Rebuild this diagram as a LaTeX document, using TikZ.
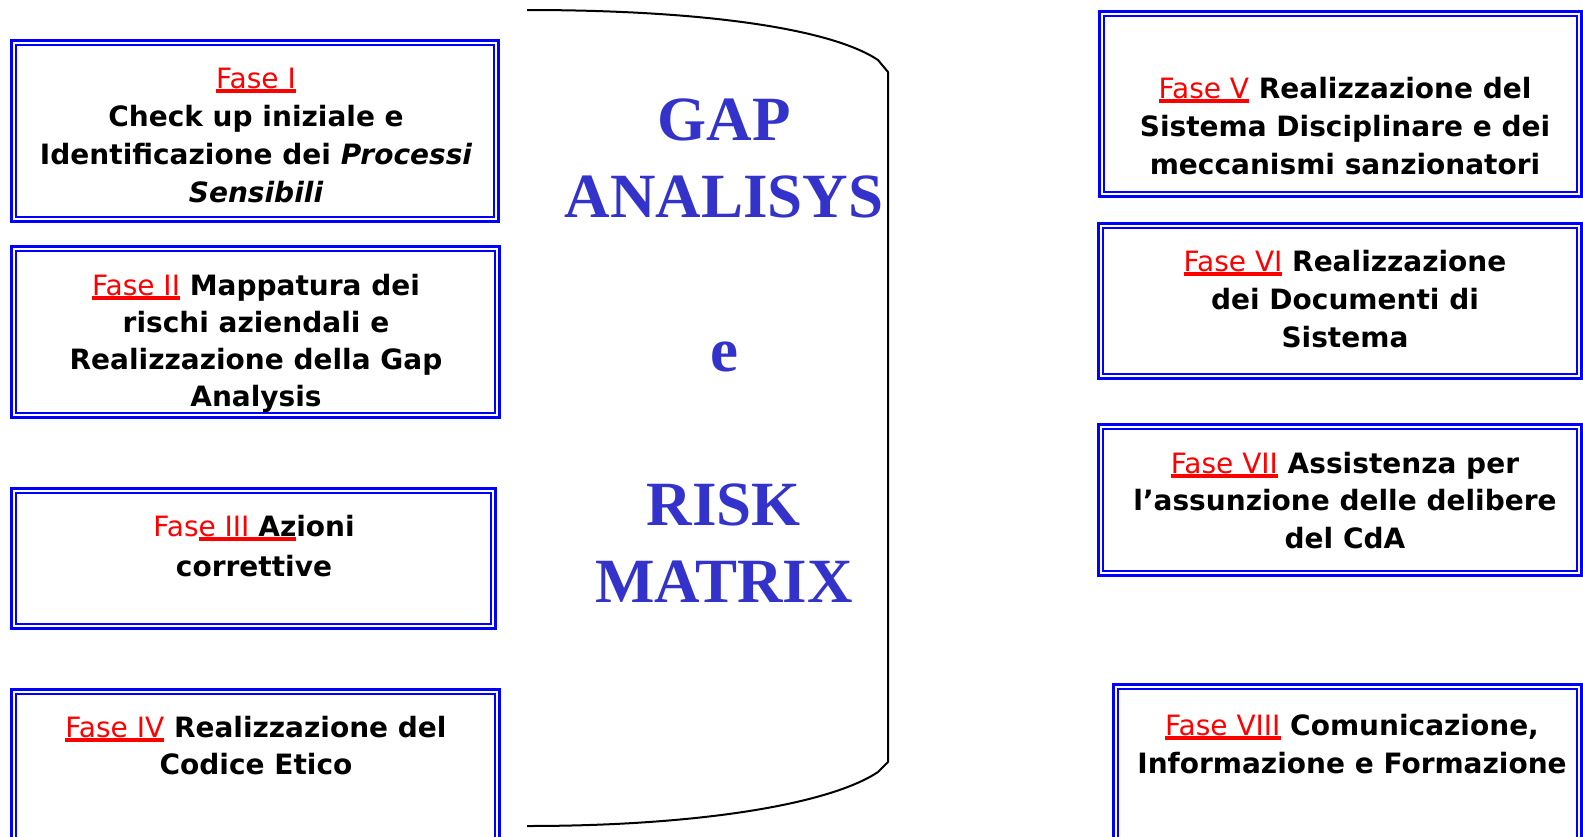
\documentclass[tikz,border=0pt]{standalone}
\usepackage{fontspec}
\newfontfamily\boxfont{DejaVu Sans}
\newfontfamily\titlefont{Liberation Serif}
\definecolor{titleblue}{RGB}{51,51,204}
\definecolor{boxblue}{RGB}{0,0,255}
\newcommand{\uln}[1]{\setbox0=\hbox{#1}\rlap{\rule[-4.8pt]{\wd0}{3.8pt}}\box0}
\newcommand{\fase}[1]{\textcolor{red}{\mdseries\uln{#1}}}
\tikzset{
  phasebox/.style={draw=boxblue, line width=3pt, inner sep=0pt, outer sep=0pt},
  innerline/.style={draw=boxblue, line width=1.5pt},
  phasetext/.style={font=\boxfont\bfseries\fontsize{28}{38}\selectfont, align=center, anchor=base, inner sep=0pt},
  titletext/.style={font=\titlefont\bfseries\fontsize{63}{77}\selectfont, text=titleblue, align=center, anchor=base, inner sep=0pt},
  cyl/.style={draw=black, line width=2pt, line join=round}
}
\newcommand{\dbl}[1]{\draw[innerline] ([xshift=4.5pt,yshift=-4.5pt]#1.north west) rectangle ([xshift=-4.5pt,yshift=4.5pt]#1.south east);}
\begin{document}
\begin{tikzpicture}[x=1pt,y=-1pt]
\useasboundingbox (0,0) rectangle (1583,836);
\clip (0,0) rectangle (1583,836);
% cylinder-like outline
\draw[cyl] (527,10) .. controls (700,10) and (830,28) .. (878,60) -- (888,72) -- (888,762) -- (878,772) .. controls (830,804) and (700,826) .. (527,826);
% (anchor=base of a multi-line node = baseline of its last line)
\node[titletext] (title) at (724,602) {GAP\\ANALISYS\\{}\\e\\{}\\RISK\\MATRIX};
% left boxes
\node[phasebox, minimum width=487pt, minimum height=181pt] (b1) at (255,131) {};
\dbl{b1}
\node[phasebox, minimum width=488pt, minimum height=171pt] (b2) at (255.5,332) {};
\dbl{b2}
\node[phasebox, minimum width=484pt, minimum height=140pt] (b3) at (253.5,558.5) {};
\dbl{b3}
\node[phasebox, minimum width=488pt, minimum height=161pt] (b4) at (255.5,770) {};
\dbl{b4}
% right boxes
\node[phasebox, minimum width=482pt, minimum height=185pt] (b5) at (1340.5,104) {};
\dbl{b5}
\node[phasebox, minimum width=483pt, minimum height=155pt] (b6) at (1340,301) {};
\dbl{b6}
\node[phasebox, minimum width=483pt, minimum height=151pt] (b7) at (1340,500) {};
\dbl{b7}
\node[phasebox, minimum width=468pt, minimum height=165pt] (b8) at (1347.5,767) {};
\dbl{b8}
% texts
\node[phasetext] (t1) at (256,202) {\fase{Fase I}\\Check up iniziale e\\Identificazione dei \itshape Processi\\\itshape Sensibili};
\node[phasetext, font=\boxfont\bfseries\fontsize{28}{37}\selectfont] (t2) at (256,406) {\fase{Fase II} Mappatura dei\\rischi aziendali e\\Realizzazione della Gap\\Analysis};
\node[phasetext, font=\boxfont\bfseries\fontsize{28}{40}\selectfont] (t3) at (254,576) {\textcolor{red}{\mdseries Fas\uln{e III \textcolor{black}{\bfseries Az}}}ioni\\correttive};
\node[phasetext, font=\boxfont\bfseries\fontsize{28}{37}\selectfont] (t4) at (256,774) {\fase{Fase IV} Realizzazione del\\Codice Etico};
\node[phasetext, font=\boxfont\bfseries\fontsize{28}{38}\selectfont] (t5) at (1345,174) {\fase{Fase V} Realizzazione del\\Sistema Disciplinare e dei\\meccanismi sanzionatori};
\node[phasetext] (t6) at (1345,347) {\fase{Fase VI} Realizzazione\\dei Documenti di\\Sistema};
\node[phasetext, font=\boxfont\bfseries\fontsize{28}{37.5}\selectfont] (t7) at (1345,548) {\fase{Fase VII} Assistenza per\\l’assunzione delle delibere\\del CdA};
\node[phasetext, font=\boxfont\bfseries\fontsize{28}{38}\selectfont] (t8) at (1352,773) {\fase{Fase VIII} Comunicazione,\\Informazione e Formazione};
\end{tikzpicture}
\end{document}
